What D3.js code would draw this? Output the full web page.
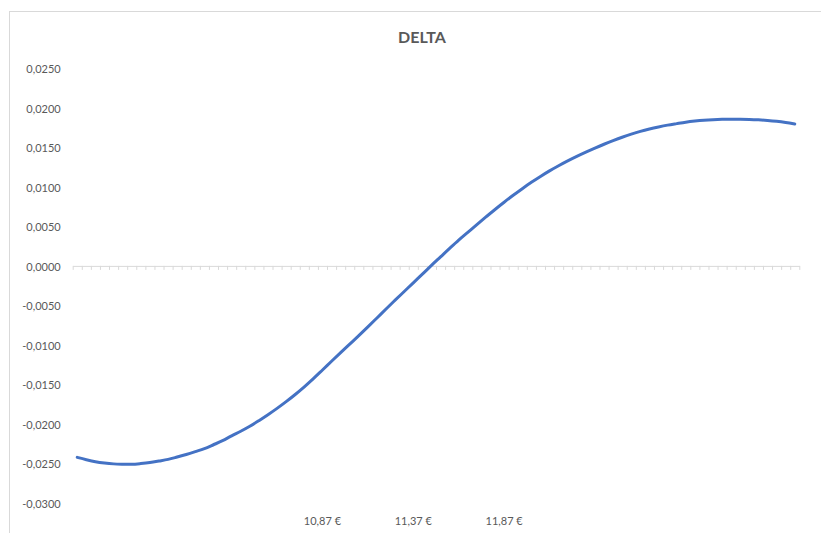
<!DOCTYPE html>
<html>
<head>
<meta charset="utf-8">
<script src="https://cdn.jsdelivr.net/npm/d3@7"></script>
<style>
  html, body { margin: 0; padding: 0; background: #fff; }
  svg { display: block; font-family: Lato, "Liberation Sans", sans-serif; }
</style>
</head>
<body>
<div id="chart"></div>
<script>
// Underlying prices (categories), in euros
const prices = [
  9.52, 9.57, 9.62, 9.67, 9.72, 9.77, 9.82, 9.87, 9.92, 9.97,
  10.02, 10.07, 10.12, 10.17, 10.22, 10.27, 10.32, 10.37, 10.42, 10.47,
  10.52, 10.57, 10.62, 10.67, 10.72, 10.77, 10.82, 10.87, 10.92, 10.97,
  11.02, 11.07, 11.12, 11.17, 11.22, 11.27, 11.32, 11.37, 11.42, 11.47,
  11.52, 11.57, 11.62, 11.67, 11.72, 11.77, 11.82, 11.87, 11.92, 11.97,
  12.02, 12.07, 12.12, 12.17, 12.22, 12.27, 12.32, 12.37, 12.42, 12.47,
  12.52, 12.57, 12.62, 12.67, 12.72, 12.77, 12.82, 12.87, 12.92, 12.97,
  13.02, 13.07, 13.12, 13.17, 13.22, 13.27, 13.32, 13.37, 13.42, 13.47
];

// Delta values
const delta = [
  -0.02423, -0.02452, -0.02477, -0.02494, -0.02505, -0.02509, -0.02510, -0.02501, -0.02488, -0.02469,
  -0.02448, -0.02418, -0.02386, -0.02350, -0.02312, -0.02263, -0.02212, -0.02150, -0.02092, -0.02029,
  -0.01958, -0.01883, -0.01803, -0.01718, -0.01627, -0.01530, -0.01426, -0.01317, -0.01207, -0.01098,
  -0.00990, -0.00882, -0.00772, -0.00659, -0.00545, -0.00434, -0.00324, -0.00214, -0.00105, 0.00006,
  0.00114, 0.00222, 0.00327, 0.00425, 0.00523, 0.00619, 0.00714, 0.00805, 0.00893, 0.00977,
  0.01057, 0.01132, 0.01202, 0.01267, 0.01328, 0.01385, 0.01439, 0.01490, 0.01539, 0.01585,
  0.01628, 0.01667, 0.01702, 0.01732, 0.01758, 0.01781, 0.01800, 0.01818, 0.01832, 0.01843,
  0.01850, 0.01854, 0.01855, 0.01855, 0.01853, 0.01848, 0.01840, 0.01829, 0.01814, 0.01795
];

// Only these category labels are printed on the axis
const shownLabels = [10.87, 11.37, 11.87];

const yTicks = [0.025, 0.02, 0.015, 0.01, 0.005, 0, -0.005, -0.01, -0.015, -0.02, -0.025, -0.03];

const W = 821, H = 533;
const plot = { left: 72.7, right: 799.3, top: 68.3, bottom: 503 };

const svg = d3.select('#chart').append('svg')
    .attr('width', W)
    .attr('height', H);

// chart area border (only top/left visible in the crop)
svg.append('rect')
    .attr('x', 9.5).attr('y', 11.5)
    .attr('width', W + 20).attr('height', H + 20)
    .attr('fill', '#fff')
    .attr('stroke', '#d9d9d9');

const x = d3.scaleBand().domain(prices).range([plot.left, plot.right]).padding(0);
const y = d3.scaleLinear().domain([-0.03, 0.025]).range([plot.bottom, plot.top]);

const comma = d => d3.format('.4f')(d).replace('.', ',').replace('−', '-');

// Title
svg.append('text')
    .attr('x', 422)
    .attr('y', 43)
    .attr('text-anchor', 'middle')
    .style('font-size', '16px')
    .style('font-weight', 'bold')
    .style('fill', '#595959')
    .text('DELTA');

// Y axis labels (no axis line, no gridlines)
const yAxis = svg.append('g')
    .attr('transform', `translate(${plot.left - 12},0)`)
    .call(d3.axisLeft(y).tickValues(yTicks).tickSize(0).tickPadding(0).tickFormat(comma));
yAxis.select('.domain').remove();
yAxis.selectAll('text')
    .attr('dy', '0.4em')
    .style('font-family', 'Lato, "Liberation Sans", sans-serif')
    .style('font-size', '11px')
    .style('fill', '#595959');

// Category axis at zero: tick marks between categories
const idx = d3.scaleLinear().domain([0, prices.length]).range([plot.left, plot.right]);
const xAxis = svg.append('g')
    .attr('transform', `translate(0,${y(0)})`)
    .call(d3.axisBottom(idx).tickValues(d3.range(prices.length + 1)).tickSize(4).tickSizeOuter(0).tickFormat(''));
xAxis.select('.domain').attr('stroke', '#d9d9d9');
xAxis.selectAll('line').attr('stroke', '#d9d9d9');

// Category labels at the bottom
const xLabels = svg.append('g')
    .attr('transform', `translate(0,${plot.bottom + 11})`)
    .call(d3.axisBottom(x).tickValues(shownLabels).tickSize(0)
        .tickFormat(d => d3.format('.2f')(d).replace('.', ',') + ' €'));
xLabels.select('.domain').remove();
xLabels.selectAll('text')
    .style('font-family', 'Lato, "Liberation Sans", sans-serif')
    .style('font-size', '11px')
    .style('fill', '#595959');

// Delta line
const line = d3.line()
    .x((d, i) => x(prices[i]) + x.bandwidth() / 2)
    .y(d => y(d))
    .curve(d3.curveCatmullRom);

svg.append('path')
    .datum(delta)
    .attr('d', line)
    .attr('fill', 'none')
    .attr('stroke', '#4472c4')
    .attr('stroke-width', 3)
    .attr('stroke-linecap', 'round')
    .attr('stroke-linejoin', 'round');
</script>
</body>
</html>
